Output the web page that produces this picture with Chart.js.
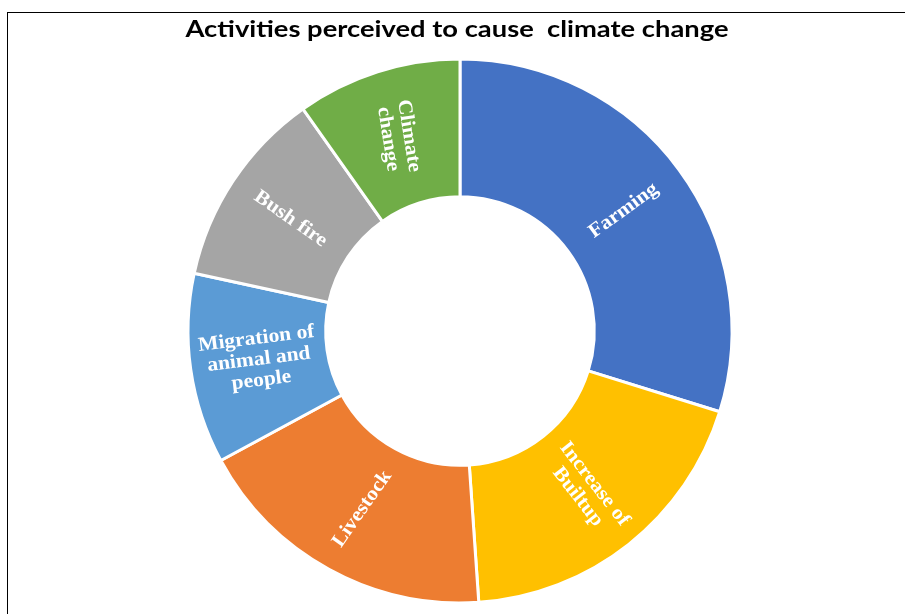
<!DOCTYPE html>
<html>
<head>
<meta charset="utf-8">
<script src="https://cdn.jsdelivr.net/npm/chart.js@4.4.1/dist/chart.umd.min.js"></script>
<style>
  html, body { margin: 0; padding: 0; background: #fff; }
  #wrap { position: absolute; left: 0; top: 0; width: 905px; height: 614px; }
  #frame { position: absolute; left: 7px; top: 12px; width: 898px; height: 602px;
           border-top: 1px solid #000; border-left: 1px solid #000; pointer-events: none; }
</style>
</head>
<body>
<div id="wrap">
  <canvas id="donutChart" width="905" height="614"></canvas>
  <div id="frame"></div>
</div>
<script>
// data (share of respondents, %)
const chartTitle = 'Activities perceived to cause  climate change';
const categories = ['Farming', 'Increase of Builtup', 'Livestock', 'Migration of animal and people', 'Bush fire', 'Climate change'];
const shares = [29.8, 19.1, 18.2, 11.3, 11.8, 9.8];
const sliceLabels = [['Farming'], ['Increase of', 'Builtup'], ['Livestock'], ['Migration of', 'animal and', 'people'], ['Bush fire'], ['Climate', 'change']];
const colors = ['#4472C4', '#FFC000', '#ED7D31', '#5B9BD5', '#A5A5A5', '#70AD47'];

// rotation of each label in degrees (like the excel data labels)
const labelRotation = [-36, 52, -55, -7, 35, 81];

// the original is a stretched screenshot, so text is drawn a bit wider than tall
const titleText = {
    id: 'titleText',
    afterDraw(chart) {
        const ctx = chart.ctx;
        ctx.save();
        ctx.font = 'bold 22px Lato, "Liberation Sans", sans-serif';
        ctx.fillStyle = '#000000';
        ctx.textAlign = 'center';
        ctx.textBaseline = 'alphabetic';
        const w = ctx.measureText(chartTitle).width;
        const sx = 543 / w;
        ctx.translate(457, 37);
        ctx.scale(sx, 1);
        ctx.fillText(chartTitle, 0, 0);
        ctx.restore();
    }
};

const sliceText = {
    id: 'sliceText',
    afterDatasetsDraw(chart) {
        const ctx = chart.ctx;
        const meta = chart.getDatasetMeta(0);
        ctx.save();
        ctx.fillStyle = '#ffffff';
        ctx.font = 'bold 20px "Liberation Serif", "Times New Roman", serif';
        ctx.textAlign = 'center';
        ctx.textBaseline = 'middle';
        meta.data.forEach((arc, i) => {
            const p = arc.getCenterPoint();
            const lines = sliceLabels[i];
            const lh = 21;
            ctx.save();
            ctx.translate(p.x, p.y);
            ctx.rotate(labelRotation[i] * Math.PI / 180);
            ctx.scale(1.08, 1);
            lines.forEach((t, k) => {
                ctx.fillText(t, 0, (k - (lines.length - 1) / 2) * lh);
            });
            ctx.restore();
        });
        ctx.restore();
    }
};

const ctx = document.getElementById('donutChart').getContext('2d');

new Chart(ctx, {
    type: 'doughnut',
    data: {
        labels: categories,
        datasets: [{
            data: shares,
            backgroundColor: colors,
            borderColor: '#ffffff',
            borderWidth: 3,
            hoverOffset: 0
        }]
    },
    options: {
        responsive: false,
        animation: false,
        radius: 272,
        cutout: 139,
        layout: {
            padding: { top: 48, bottom: 0, left: 15, right: 0 }
        },
        plugins: {
            legend: { display: false },
            tooltip: { enabled: false },
            title: { display: false }
        }
    },
    plugins: [sliceText, titleText]
});
</script>
</body>
</html>
